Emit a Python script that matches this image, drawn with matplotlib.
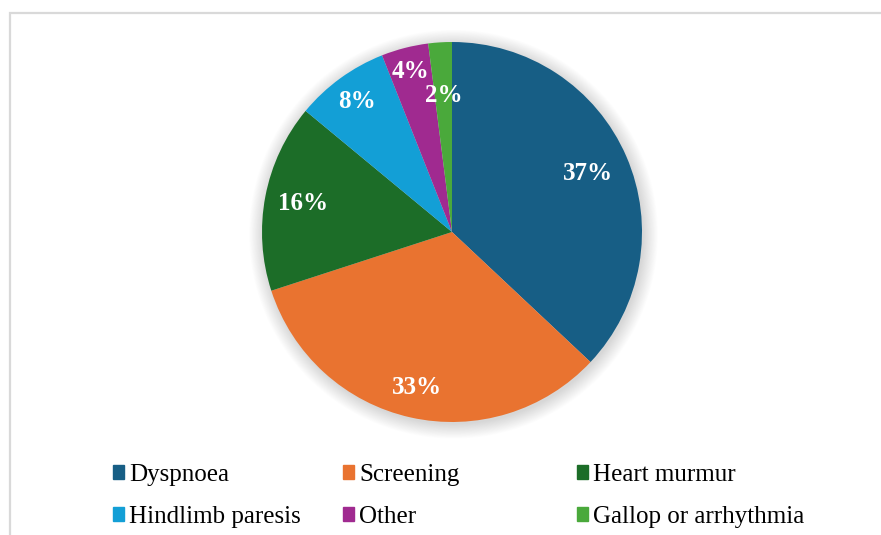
import numpy as np
import matplotlib.pyplot as plt
from matplotlib.patches import Patch, Rectangle, Circle

categories = ["Dyspnoea", "Screening", "Heart murmur", "Hindlimb paresis", "Other", "Gallop or arrhythmia"]
shares = [37, 33, 16, 8, 4, 2]
colors = ["#175e85", "#e97330", "#1c6d28", "#139fd6", "#a02a90", "#4aa93b"]
# radial position of each percentage label (fraction of radius)
label_dist = [0.78, 0.84, 0.80, 0.85, 0.87, 0.72]

plt.rcParams['font.family'] = ['Liberation Serif', 'DejaVu Serif']

W, H = 881, 535
fig = plt.figure(figsize=(W / 100, H / 100), dpi=100)

# thin grey frame (only top and left visible in the crop)
fig.add_artist(Rectangle((10 / W, -0.1), 1.2, 1 - 13 / H + 0.1, transform=fig.transFigure,
                         fill=False, ec="#d9d9d9", lw=1.6))

cx, cy, R = 452, 232, 190
half = 1.1 * R
ax = fig.add_axes([(cx - half) / W, (H - cy - half) / H, 2 * half / W, 2 * half / H])

# soft shadow under the pie
for i in range(20):
    ax.add_patch(Circle((0.008, -0.012), 1.0 + 0.004 * i, color="black", alpha=0.007, lw=0, zorder=0))

wedges, texts, autotexts = ax.pie(shares, colors=colors, startangle=90, counterclock=False,
                                  autopct='%1.0f%%', wedgeprops=dict(linewidth=0),
                                  textprops=dict(color="white", fontsize=18, fontweight="bold"))
for w, t, d in zip(wedges, autotexts, label_dist):
    ang = np.deg2rad((w.theta1 + w.theta2) / 2)
    t.set_position((d * np.cos(ang), d * np.sin(ang)))

ax.set_xlim(-1.1, 1.1)
ax.set_ylim(-1.1, 1.1)
ax.set_aspect("equal")
ax.axis("off")

# legend: three fixed-width columns, two rows
col_x = [113, 343, 577]
for c in range(3):
    idx = [c, c + 3]
    handles = [Patch(color=colors[i]) for i in idx]
    fig.legend(handles, [categories[i] for i in idx], loc="upper left",
               bbox_to_anchor=(col_x[c] / W, 1 - 464 / H), frameon=False, fontsize=18,
               handlelength=0.45, handleheight=0.45, handletextpad=0.2,
               labelspacing=0.8, borderpad=0, borderaxespad=0)

fig.savefig("out.png", dpi=100, facecolor="white")
